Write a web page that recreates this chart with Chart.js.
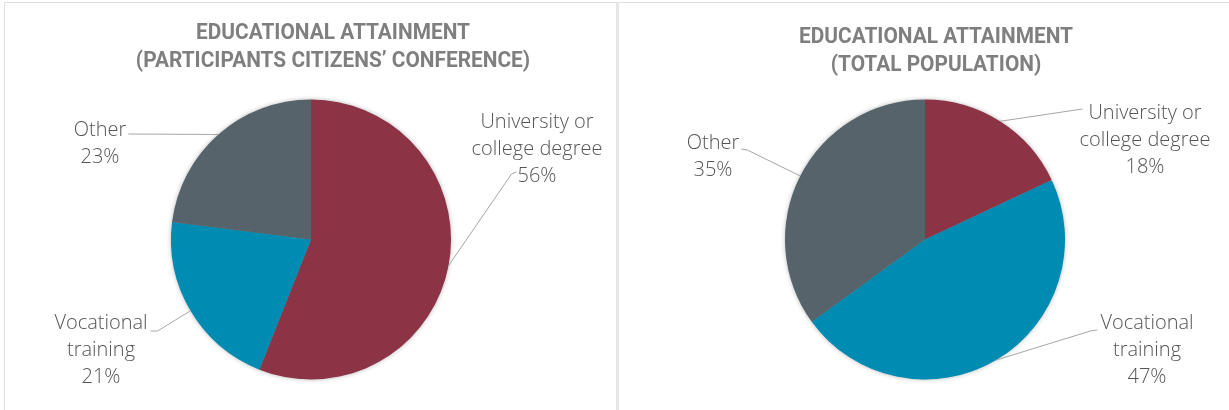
<!DOCTYPE html>
<html>
<head>
<meta charset="utf-8">
<script src="https://cdn.jsdelivr.net/npm/chart.js@4/dist/chart.umd.min.js"></script>
<style>
  html, body { margin: 0; padding: 0; background: #fff; }
  #wrap { position: relative; width: 1229px; height: 410px; overflow: hidden; background: #fff; }
  .panel { position: absolute; top: 0; height: 410px; }
  #p1 { left: 0; width: 616px; }
  #p2 { left: 616px; width: 613px; }
  .bline { position: absolute; background: #dedede; }
</style>
</head>
<body>
<div id="wrap">
  <div class="bline" style="left:4px;top:2px;width:1225px;height:1px;"></div>
  <div class="bline" style="left:4px;top:2px;width:1px;height:408px;"></div>
  <div class="bline" style="left:616px;top:2px;width:3px;height:408px;background:#e6e6e6;"></div>
  <div class="panel" id="p1"><canvas id="c1" width="616" height="410"></canvas></div>
  <div class="panel" id="p2"><canvas id="c2" width="613" height="410"></canvas></div>
</div>
<script>
// ---- data ----
const categories = ["University or college degree", "Vocational training", "Other"];
const labelLines = [["University or", "college degree"], ["Vocational", "training"], ["Other"]];
const participantsValues = [56, 21, 23];
const populationValues = [18, 47, 35];
const titleParticipants = ["EDUCATIONAL ATTAINMENT", "(PARTICIPANTS CITIZENS\u2019 CONFERENCE)"];
const titlePopulation = ["EDUCATIONAL ATTAINMENT", "(TOTAL POPULATION)"];
const sliceColors = ["#8c3446", "#008bb2", "#56636b"];

// ---- layout (styling, not data) ----
const LABEL_FONT = '300 20px "Open Sans", "Noto Sans", sans-serif';
const TITLE_FONT = 'bold 22px Roboto, "DejaVu Sans", sans-serif';
const TITLE_REF_WIDTH = 274; // rendered width of first title line (condensed look)
const LINE_H = 27;

const layouts = {
  c1: {
    padding: { left: 171, right: 165, top: 99.5, bottom: 30.5 },
    title: { x: 333, ys: [33, 61] },
    labels: [
      { dx: 226, dy: -117.5, attach: { line: 2, side: 'left', gap: 1, dy: -4, ex: -5, ey: 2 } },
      { dx: -210, dy: 83.5, attach: { line: 0, side: 'right', gap: 3, dy: 8, ex: 7, ey: 0 } },
      { dx: -211, dy: -109.5, attach: { line: 0, side: 'right', gap: 2, dy: 4, ex: 0, ey: 0 } }
    ]
  },
  c2: {
    padding: { left: 169, right: 164, top: 99.5, bottom: 30.5 },
    title: { x: 320, ys: [37, 65] },
    labels: [
      { dx: 220, dy: -126.5, attach: { line: 0, side: 'left', gap: 6, dy: -4, ex: 0, ey: 0 } },
      { dx: 222, dy: 83.5, attach: { line: 0, side: 'left', gap: 3, dy: 7, ex: -7, ey: 1 } },
      { dx: -212, dy: -96.5, attach: { line: 0, side: 'right', gap: 2, dy: 6, ex: 6, ey: 1 } }
    ]
  }
};

const shadowPlugin = {
  id: 'pieShadow',
  beforeDatasetsDraw(chart) {
    const arc = chart.getDatasetMeta(0).data[0];
    if (!arc) return;
    const ctx = chart.ctx;
    ctx.save();
    ctx.shadowColor = 'rgba(0,0,0,0.35)';
    ctx.shadowBlur = 5;
    ctx.fillStyle = '#888';
    ctx.beginPath();
    ctx.arc(arc.x, arc.y, arc.outerRadius - 0.5, 0, Math.PI * 2);
    ctx.fill();
    ctx.restore();
  }
};

const labelPlugin = {
  id: 'excelLabels',
  afterDraw(chart) {
    const ctx = chart.ctx;
    const lay = chart.options.plugins.excelLabels;
    const meta = chart.getDatasetMeta(0);
    const values = chart.data.datasets[0].data;
    const total = values.reduce((a, b) => a + b, 0);
    // title (horizontally condensed)
    ctx.save();
    ctx.font = TITLE_FONT;
    const sx = TITLE_REF_WIDTH / ctx.measureText(lay.titleLines[0]).width;
    ctx.fillStyle = '#7f7f7f';
    ctx.textAlign = 'center';
    ctx.textBaseline = 'middle';
    lay.titleLines.forEach((t, i) => {
      ctx.save();
      ctx.translate(lay.title.x, lay.title.ys[i]);
      ctx.scale(sx, 1);
      ctx.fillText(t, 0, 0);
      ctx.restore();
    });
    ctx.restore();

    meta.data.forEach((arc, i) => {
      const L = lay.labels[i];
      const lines = labelLines[i].concat([Math.round(values[i] / total * 100) + '%']);
      const cx = arc.x + L.dx;
      const y0 = arc.y + L.dy;
      ctx.save();
      ctx.font = LABEL_FONT;
      ctx.fillStyle = '#555555';
      ctx.textAlign = 'center';
      ctx.textBaseline = 'middle';
      lines.forEach((t, k) => ctx.fillText(t, cx, y0 + k * LINE_H));
      const a = L.attach;
      const w = ctx.measureText(lines[a.line]).width;
      const lx = a.side === 'left' ? cx - w / 2 - a.gap : cx + w / 2 + a.gap;
      const ly = y0 + a.line * LINE_H + a.dy;
      const mid = (arc.startAngle + arc.endAngle) / 2;
      const px = arc.x + arc.outerRadius * Math.cos(mid);
      const py = arc.y + arc.outerRadius * Math.sin(mid);
      ctx.strokeStyle = '#a6a6a6';
      ctx.lineWidth = 1;
      ctx.beginPath();
      ctx.moveTo(lx, ly);
      ctx.lineTo(lx + a.ex, ly + a.ey);
      ctx.lineTo(px, py);
      ctx.stroke();
      ctx.restore();
    });
  }
};

function makeChart(id, values, titleLines) {
  const lay = layouts[id];
  return new Chart(document.getElementById(id), {
    type: 'pie',
    data: {
      labels: categories,
      datasets: [{
        data: values,
        backgroundColor: sliceColors,
        borderWidth: 0
      }]
    },
    options: {
      responsive: false,
      animation: false,
      layout: { padding: lay.padding },
      plugins: {
        legend: { display: false },
        tooltip: { enabled: false },
        title: { display: false },
        excelLabels: { titleLines: titleLines, title: lay.title, labels: lay.labels }
      }
    },
    plugins: [shadowPlugin, labelPlugin]
  });
}

makeChart('c1', participantsValues, titleParticipants);
makeChart('c2', populationValues, titlePopulation);
</script>
</body>
</html>
